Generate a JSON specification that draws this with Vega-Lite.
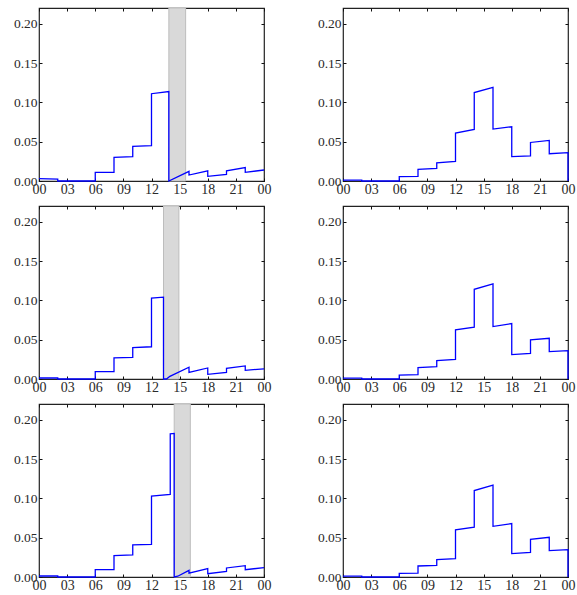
{
  "$schema": "https://vega.github.io/schema/vega-lite/v6.json",
  "padding": {"left": 12, "top": 6, "right": 5, "bottom": 5},
  "background": "white",
  "bounds": "flush",
  "config": {
    "view": {"stroke": "#222222", "strokeWidth": 1.2},
    "font": "Liberation Serif",
    "axis": {
      "grid": false,
      "domain": false,
      "ticks": true,
      "tickSize": -3,
      "tickColor": "#111111",
      "tickWidth": 1,
      "labelFont": "Liberation Serif",
      "labelFontSize": 13,
      "labelColor": "#2a2a2a",
      "labelPadding": 5,
      "labelFlush": false,
      "labelOverlap": false,
      "labelBound": false,
      "title": null
    },
    "axisBottom": {"labelPadding": 4, "labelFontSize": 14},
    "axisLeft": {"labelFontSize": 13.5}
  },
  "data": {"values": [
    {"kind": "band", "r": 1, "c": 1, "b0": 13.85, "b1": 15.64},
    {"kind": "band", "r": 2, "c": 1, "b0": 13.28, "b1": 14.92},
    {"kind": "band", "r": 3, "c": 1, "b0": 14.42, "b1": 16.14},

    {"kind": "line", "r": 1, "c": 1, "i": 1, "x": 0, "y": 0.003},
    {"kind": "line", "r": 1, "c": 1, "i": 2, "x": 2, "y": 0.0025},
    {"kind": "line", "r": 1, "c": 1, "i": 3, "x": 2, "y": 0},
    {"kind": "line", "r": 1, "c": 1, "i": 4, "x": 6, "y": 0},
    {"kind": "line", "r": 1, "c": 1, "i": 5, "x": 6, "y": 0.011},
    {"kind": "line", "r": 1, "c": 1, "i": 6, "x": 8, "y": 0.011},
    {"kind": "line", "r": 1, "c": 1, "i": 7, "x": 8, "y": 0.030},
    {"kind": "line", "r": 1, "c": 1, "i": 8, "x": 10, "y": 0.031},
    {"kind": "line", "r": 1, "c": 1, "i": 9, "x": 10, "y": 0.044},
    {"kind": "line", "r": 1, "c": 1, "i": 10, "x": 12, "y": 0.045},
    {"kind": "line", "r": 1, "c": 1, "i": 11, "x": 12, "y": 0.111},
    {"kind": "line", "r": 1, "c": 1, "i": 12, "x": 13.85, "y": 0.1137},
    {"kind": "line", "r": 1, "c": 1, "i": 13, "x": 13.85, "y": 0},
    {"kind": "line", "r": 1, "c": 1, "i": 14, "x": 16, "y": 0.0123},
    {"kind": "line", "r": 1, "c": 1, "i": 15, "x": 16, "y": 0.0076},
    {"kind": "line", "r": 1, "c": 1, "i": 16, "x": 18, "y": 0.013},
    {"kind": "line", "r": 1, "c": 1, "i": 17, "x": 18, "y": 0.006},
    {"kind": "line", "r": 1, "c": 1, "i": 18, "x": 20, "y": 0.0085},
    {"kind": "line", "r": 1, "c": 1, "i": 19, "x": 20, "y": 0.013},
    {"kind": "line", "r": 1, "c": 1, "i": 20, "x": 22, "y": 0.017},
    {"kind": "line", "r": 1, "c": 1, "i": 21, "x": 22, "y": 0.011},
    {"kind": "line", "r": 1, "c": 1, "i": 22, "x": 24, "y": 0.014},

    {"kind": "line", "r": 1, "c": 2, "i": 1, "x": 0, "y": 0.001},
    {"kind": "line", "r": 1, "c": 2, "i": 2, "x": 2, "y": 0.001},
    {"kind": "line", "r": 1, "c": 2, "i": 3, "x": 2, "y": 0},
    {"kind": "line", "r": 1, "c": 2, "i": 4, "x": 6, "y": 0},
    {"kind": "line", "r": 1, "c": 2, "i": 5, "x": 6, "y": 0.0055},
    {"kind": "line", "r": 1, "c": 2, "i": 6, "x": 8, "y": 0.006},
    {"kind": "line", "r": 1, "c": 2, "i": 7, "x": 8, "y": 0.0148},
    {"kind": "line", "r": 1, "c": 2, "i": 8, "x": 10, "y": 0.016},
    {"kind": "line", "r": 1, "c": 2, "i": 9, "x": 10, "y": 0.023},
    {"kind": "line", "r": 1, "c": 2, "i": 10, "x": 12, "y": 0.025},
    {"kind": "line", "r": 1, "c": 2, "i": 11, "x": 12, "y": 0.061},
    {"kind": "line", "r": 1, "c": 2, "i": 12, "x": 14, "y": 0.0655},
    {"kind": "line", "r": 1, "c": 2, "i": 13, "x": 14, "y": 0.1125},
    {"kind": "line", "r": 1, "c": 2, "i": 14, "x": 16, "y": 0.119},
    {"kind": "line", "r": 1, "c": 2, "i": 15, "x": 16, "y": 0.066},
    {"kind": "line", "r": 1, "c": 2, "i": 16, "x": 18, "y": 0.069},
    {"kind": "line", "r": 1, "c": 2, "i": 17, "x": 18, "y": 0.031},
    {"kind": "line", "r": 1, "c": 2, "i": 18, "x": 20, "y": 0.032},
    {"kind": "line", "r": 1, "c": 2, "i": 19, "x": 20, "y": 0.049},
    {"kind": "line", "r": 1, "c": 2, "i": 20, "x": 22, "y": 0.0516},
    {"kind": "line", "r": 1, "c": 2, "i": 21, "x": 22, "y": 0.0347},
    {"kind": "line", "r": 1, "c": 2, "i": 22, "x": 24, "y": 0.036},
    {"kind": "line", "r": 1, "c": 2, "i": 23, "x": 24, "y": 0},

    {"kind": "line", "r": 2, "c": 1, "i": 1, "x": 0, "y": 0.0013},
    {"kind": "line", "r": 2, "c": 1, "i": 2, "x": 2, "y": 0.0013},
    {"kind": "line", "r": 2, "c": 1, "i": 3, "x": 2, "y": 0},
    {"kind": "line", "r": 2, "c": 1, "i": 4, "x": 6, "y": 0},
    {"kind": "line", "r": 2, "c": 1, "i": 5, "x": 6, "y": 0.0093},
    {"kind": "line", "r": 2, "c": 1, "i": 6, "x": 8, "y": 0.0093},
    {"kind": "line", "r": 2, "c": 1, "i": 7, "x": 8, "y": 0.0268},
    {"kind": "line", "r": 2, "c": 1, "i": 8, "x": 10, "y": 0.0276},
    {"kind": "line", "r": 2, "c": 1, "i": 9, "x": 10, "y": 0.040},
    {"kind": "line", "r": 2, "c": 1, "i": 10, "x": 12, "y": 0.041},
    {"kind": "line", "r": 2, "c": 1, "i": 11, "x": 12, "y": 0.1028},
    {"kind": "line", "r": 2, "c": 1, "i": 12, "x": 13.28, "y": 0.104},
    {"kind": "line", "r": 2, "c": 1, "i": 13, "x": 13.28, "y": 0},
    {"kind": "line", "r": 2, "c": 1, "i": 14, "x": 13.6, "y": 0},
    {"kind": "line", "r": 2, "c": 1, "i": 15, "x": 13.96, "y": 0.0034},
    {"kind": "line", "r": 2, "c": 1, "i": 16, "x": 16, "y": 0.0149},
    {"kind": "line", "r": 2, "c": 1, "i": 17, "x": 16, "y": 0.0085},
    {"kind": "line", "r": 2, "c": 1, "i": 18, "x": 18, "y": 0.014},
    {"kind": "line", "r": 2, "c": 1, "i": 19, "x": 18, "y": 0.006},
    {"kind": "line", "r": 2, "c": 1, "i": 20, "x": 20, "y": 0.0085},
    {"kind": "line", "r": 2, "c": 1, "i": 21, "x": 20, "y": 0.0136},
    {"kind": "line", "r": 2, "c": 1, "i": 22, "x": 22, "y": 0.0166},
    {"kind": "line", "r": 2, "c": 1, "i": 23, "x": 22, "y": 0.011},
    {"kind": "line", "r": 2, "c": 1, "i": 24, "x": 24, "y": 0.013},

    {"kind": "line", "r": 2, "c": 2, "i": 1, "x": 0, "y": 0.001},
    {"kind": "line", "r": 2, "c": 2, "i": 2, "x": 2, "y": 0.001},
    {"kind": "line", "r": 2, "c": 2, "i": 3, "x": 2, "y": 0},
    {"kind": "line", "r": 2, "c": 2, "i": 4, "x": 6, "y": 0},
    {"kind": "line", "r": 2, "c": 2, "i": 5, "x": 6, "y": 0.005},
    {"kind": "line", "r": 2, "c": 2, "i": 6, "x": 8, "y": 0.0055},
    {"kind": "line", "r": 2, "c": 2, "i": 7, "x": 8, "y": 0.0144},
    {"kind": "line", "r": 2, "c": 2, "i": 8, "x": 10, "y": 0.0157},
    {"kind": "line", "r": 2, "c": 2, "i": 9, "x": 10, "y": 0.0234},
    {"kind": "line", "r": 2, "c": 2, "i": 10, "x": 12, "y": 0.025},
    {"kind": "line", "r": 2, "c": 2, "i": 11, "x": 12, "y": 0.0624},
    {"kind": "line", "r": 2, "c": 2, "i": 12, "x": 14, "y": 0.066},
    {"kind": "line", "r": 2, "c": 2, "i": 13, "x": 14, "y": 0.114},
    {"kind": "line", "r": 2, "c": 2, "i": 14, "x": 16, "y": 0.121},
    {"kind": "line", "r": 2, "c": 2, "i": 15, "x": 16, "y": 0.0667},
    {"kind": "line", "r": 2, "c": 2, "i": 16, "x": 18, "y": 0.0705},
    {"kind": "line", "r": 2, "c": 2, "i": 17, "x": 18, "y": 0.031},
    {"kind": "line", "r": 2, "c": 2, "i": 18, "x": 20, "y": 0.0327},
    {"kind": "line", "r": 2, "c": 2, "i": 19, "x": 20, "y": 0.0497},
    {"kind": "line", "r": 2, "c": 2, "i": 20, "x": 22, "y": 0.0518},
    {"kind": "line", "r": 2, "c": 2, "i": 21, "x": 22, "y": 0.0348},
    {"kind": "line", "r": 2, "c": 2, "i": 22, "x": 24, "y": 0.036},
    {"kind": "line", "r": 2, "c": 2, "i": 23, "x": 24, "y": 0},

    {"kind": "line", "r": 3, "c": 1, "i": 1, "x": 0, "y": 0.0013},
    {"kind": "line", "r": 3, "c": 1, "i": 2, "x": 2, "y": 0.0013},
    {"kind": "line", "r": 3, "c": 1, "i": 3, "x": 2, "y": 0},
    {"kind": "line", "r": 3, "c": 1, "i": 4, "x": 6, "y": 0},
    {"kind": "line", "r": 3, "c": 1, "i": 5, "x": 6, "y": 0.0093},
    {"kind": "line", "r": 3, "c": 1, "i": 6, "x": 8, "y": 0.0093},
    {"kind": "line", "r": 3, "c": 1, "i": 7, "x": 8, "y": 0.0272},
    {"kind": "line", "r": 3, "c": 1, "i": 8, "x": 10, "y": 0.028},
    {"kind": "line", "r": 3, "c": 1, "i": 9, "x": 10, "y": 0.0408},
    {"kind": "line", "r": 3, "c": 1, "i": 10, "x": 12, "y": 0.0416},
    {"kind": "line", "r": 3, "c": 1, "i": 11, "x": 12, "y": 0.103},
    {"kind": "line", "r": 3, "c": 1, "i": 12, "x": 14, "y": 0.105},
    {"kind": "line", "r": 3, "c": 1, "i": 13, "x": 14, "y": 0.182},
    {"kind": "line", "r": 3, "c": 1, "i": 14, "x": 14.42, "y": 0.1826},
    {"kind": "line", "r": 3, "c": 1, "i": 15, "x": 14.42, "y": 0},
    {"kind": "line", "r": 3, "c": 1, "i": 16, "x": 14.8, "y": 0.001},
    {"kind": "line", "r": 3, "c": 1, "i": 17, "x": 16, "y": 0.0085},
    {"kind": "line", "r": 3, "c": 1, "i": 18, "x": 16, "y": 0.005},
    {"kind": "line", "r": 3, "c": 1, "i": 19, "x": 18, "y": 0.0106},
    {"kind": "line", "r": 3, "c": 1, "i": 20, "x": 18, "y": 0.0042},
    {"kind": "line", "r": 3, "c": 1, "i": 21, "x": 20, "y": 0.0072},
    {"kind": "line", "r": 3, "c": 1, "i": 22, "x": 20, "y": 0.0115},
    {"kind": "line", "r": 3, "c": 1, "i": 23, "x": 22, "y": 0.0144},
    {"kind": "line", "r": 3, "c": 1, "i": 24, "x": 22, "y": 0.0093},
    {"kind": "line", "r": 3, "c": 1, "i": 25, "x": 24, "y": 0.0119},

    {"kind": "line", "r": 3, "c": 2, "i": 1, "x": 0, "y": 0.001},
    {"kind": "line", "r": 3, "c": 2, "i": 2, "x": 2, "y": 0.001},
    {"kind": "line", "r": 3, "c": 2, "i": 3, "x": 2, "y": 0},
    {"kind": "line", "r": 3, "c": 2, "i": 4, "x": 6, "y": 0},
    {"kind": "line", "r": 3, "c": 2, "i": 5, "x": 6, "y": 0.0047},
    {"kind": "line", "r": 3, "c": 2, "i": 6, "x": 8, "y": 0.005},
    {"kind": "line", "r": 3, "c": 2, "i": 7, "x": 8, "y": 0.014},
    {"kind": "line", "r": 3, "c": 2, "i": 8, "x": 10, "y": 0.0149},
    {"kind": "line", "r": 3, "c": 2, "i": 9, "x": 10, "y": 0.022},
    {"kind": "line", "r": 3, "c": 2, "i": 10, "x": 12, "y": 0.0234},
    {"kind": "line", "r": 3, "c": 2, "i": 11, "x": 12, "y": 0.0599},
    {"kind": "line", "r": 3, "c": 2, "i": 12, "x": 14, "y": 0.0633},
    {"kind": "line", "r": 3, "c": 2, "i": 13, "x": 14, "y": 0.11},
    {"kind": "line", "r": 3, "c": 2, "i": 14, "x": 16, "y": 0.1168},
    {"kind": "line", "r": 3, "c": 2, "i": 15, "x": 16, "y": 0.0645},
    {"kind": "line", "r": 3, "c": 2, "i": 16, "x": 18, "y": 0.068},
    {"kind": "line", "r": 3, "c": 2, "i": 17, "x": 18, "y": 0.0297},
    {"kind": "line", "r": 3, "c": 2, "i": 18, "x": 20, "y": 0.0314},
    {"kind": "line", "r": 3, "c": 2, "i": 19, "x": 20, "y": 0.048},
    {"kind": "line", "r": 3, "c": 2, "i": 20, "x": 22, "y": 0.0505},
    {"kind": "line", "r": 3, "c": 2, "i": 21, "x": 22, "y": 0.0335},
    {"kind": "line", "r": 3, "c": 2, "i": 22, "x": 24, "y": 0.0348},
    {"kind": "line", "r": 3, "c": 2, "i": 23, "x": 24, "y": 0}
  ]},
  "facet": {
    "row": {"field": "r", "type": "ordinal", "header": null},
    "column": {"field": "c", "type": "ordinal", "header": null}
  },
  "spacing": {"row": 25, "column": 79},
  "resolve": {"axis": {"x": "independent", "y": "independent"}},
  "spec": {
    "width": 225,
    "height": 173,
    "layer": [
      {
        "transform": [{"filter": "datum.kind === 'band'"}],
        "mark": {"type": "rect", "fill": "#d9d9d9", "stroke": "#bdbdbd", "strokeWidth": 1},
        "encoding": {
          "x": {"field": "b0", "type": "quantitative", "scale": {"domain": [0, 24], "nice": false, "zero": false}, "axis": null},
          "x2": {"field": "b1"}
        }
      },
      {
        "transform": [{"filter": "datum.kind === 'line'"}],
        "mark": {"type": "line", "color": "#0000ff", "strokeWidth": 1.3, "interpolate": "linear"},
        "encoding": {
          "x": {"field": "x", "type": "quantitative", "scale": {"domain": [0, 24], "nice": false, "zero": false},
                "axis": {"orient": "bottom", "values": [0, 3, 6, 9, 12, 15, 18, 21, 24],
                         "labelExpr": "datum.value == 24 ? '00' : (datum.value < 10 ? '0' + datum.value : '' + datum.value)"}},
          "y": {"field": "y", "type": "quantitative", "scale": {"domain": [0, 0.22], "nice": false},
                "axis": {"orient": "left", "values": [0, 0.05, 0.1, 0.15, 0.2], "format": ".2f"}},
          "order": {"field": "i", "type": "quantitative"}
        }
      },
      {
        "transform": [{"filter": "datum.kind === 'line'"}],
        "mark": {"type": "line", "strokeOpacity": 0},
        "encoding": {
          "x": {"field": "x", "type": "quantitative",
                "axis": {"orient": "top", "values": [0, 3, 6, 9, 12, 15, 18, 21, 24], "labels": false}},
          "y": {"field": "y", "type": "quantitative",
                "axis": {"orient": "right", "values": [0, 0.05, 0.1, 0.15, 0.2], "labels": false}},
          "order": {"field": "i", "type": "quantitative"}
        }
      }
    ]
  }
}
